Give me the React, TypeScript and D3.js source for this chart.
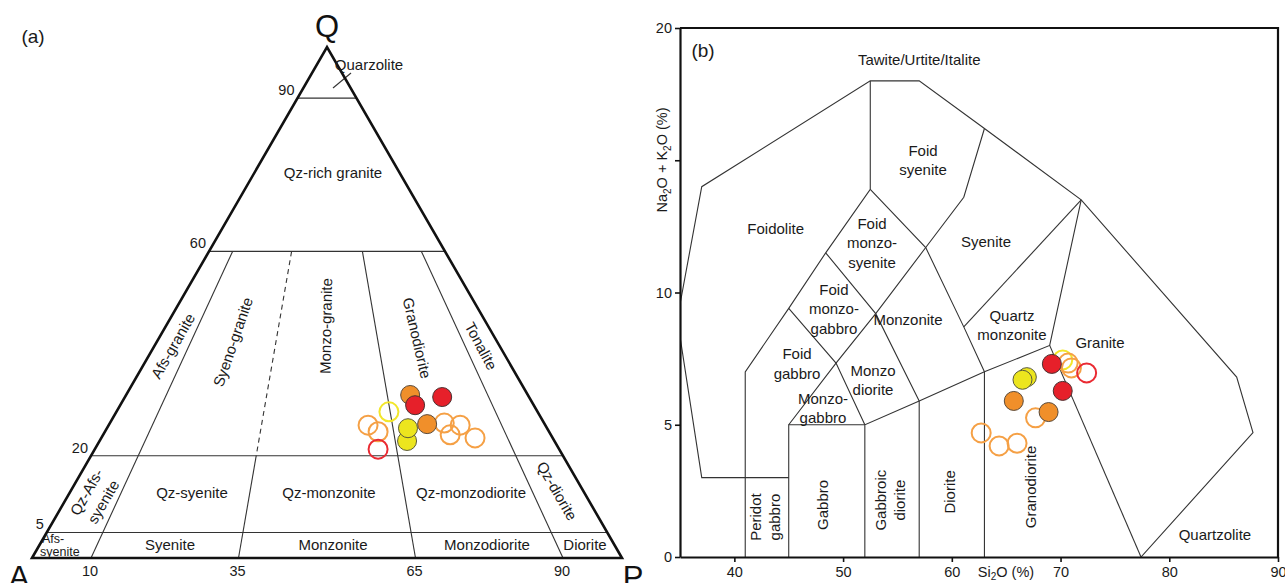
import React, { useEffect, useRef } from 'react';
import * as d3 from 'd3';

const FONT = "'Liberation Sans', Arial, Helvetica, sans-serif";

// ---------- (a) QAP ternary ----------
const qLines = [90, 60, 20, 5]; // Q %
const qTickLabels = ['90', '60', '20', '5'];
const ratioLines = [10, 35, 65, 90]; // 100*P/(A+P)
const ratioTickLabels = ['10', '35', '65', '90'];

// samples on the QAP plot: Q %, 100*P/(A+P), group
const qapQ = [28.6, 26.0, 24.7, 21.3, 26.4, 26.0, 24.1, 23.5, 31.9, 29.9, 31.5, 22.9, 25.4, 26.2];
const qapRatio = [64.7, 59.4, 61.5, 61.0, 77.0, 80.5, 77.5, 82.8, 70.7, 71.3, 78.5, 67.6, 68.4, 73.0];
const qapGroup = [
  'yellowOpen', 'orangeOpen', 'orangeOpen', 'redOpen', 'orangeOpen', 'orangeOpen', 'orangeOpen', 'orangeOpen',
  'orangeFilled', 'redFilled', 'redFilled', 'yellowFilled', 'yellowFilled', 'orangeFilled',
];

// ---------- (b) TAS ----------
const tasSiO2 = [70.2, 70.7, 71.0, 72.4, 67.7, 62.7, 64.35, 66.0, 69.2, 70.2, 66.9, 66.5, 65.7, 68.9];
const tasAlk = [7.45, 7.33, 7.15, 6.96, 5.26, 4.69, 4.2, 4.3, 7.3, 6.28, 6.8, 6.7, 5.9, 5.48];
const tasGroup = [
  'yellowOpen', 'orangeOpen', 'orangeOpen', 'redOpen', 'orangeOpen', 'orangeOpen', 'orangeOpen', 'orangeOpen',
  'redFilled', 'redFilled', 'yellowFilled', 'yellowFilled', 'orangeFilled', 'orangeFilled',
];

const tasXTicks = [40, 50, 60, 70, 80, 90];
const tasYTicks = [0, 5, 10, 15, 20];

// field boundaries [SiO2, Na2O+K2O]
const tasBoundaries: [number, number][][] = [
  [[34.75, 9], [37, 14], [52.5, 18], [57, 18], [63, 16.2], [71.9, 13.5], [86.2, 6.8], [87.7, 4.7], [77.4, 0]],
  [[34.75, 9], [37, 3], [45, 3]],
  [[41, 0], [41, 7], [45, 9.4], [48.4, 11.5], [52.5, 13.9], [52.5, 18]],
  [[45, 0], [45, 5], [52, 5]],
  [[52, 0], [52, 5], [57, 5.9], [63, 7], [69, 8], [71.9, 13.5]],
  [[57, 0], [57, 5.9]],
  [[63, 0], [63, 7]],
  [[69, 8], [77.4, 0]],
  [[45, 5], [49.35, 7.33], [53, 9.2], [57.6, 11.7], [61.1, 13.6], [63, 16.2]],
  [[45, 9.4], [49.35, 7.33], [52, 5]],
  [[48.4, 11.5], [53, 9.2], [57, 5.9]],
  [[52.5, 13.9], [57.6, 11.7], [61.1, 8.7], [63, 7]],
  [[61.1, 8.7], [71.9, 13.5]],
];

const tasFieldNames = [
  ['Tawite/Urtite/Italite'], ['Foid', 'syenite'], ['Foidolite'], ['Foid', 'monzo-', 'syenite'],
  ['Foid', 'monzo-', 'gabbro'], ['Foid', 'gabbro'], ['Monzo', 'diorite'], ['Monzo-', 'gabbro'],
  ['Monzonite'], ['Syenite'], ['Quartz', 'monzonite'], ['Granite'], ['Granodiorite'], ['Quartzolite'],
  ['Peridot', 'gabbro'], ['Gabbro'], ['Gabbroic', 'diorite'], ['Diorite'],
];
// label anchors in data units, rotation in degrees
const tasFieldAnchor: [number, number, number][] = [
  [57.0, 18.8, 0], [57.35, 15.0, 0], [43.8, 12.4, 0], [52.66, 11.87, 0],
  [49.16, 9.38, 0], [45.76, 7.3, 0], [52.75, 6.69, 0], [48.15, 5.63, 0],
  [55.97, 8.96, 0], [63.14, 11.9, 0], [65.53, 8.77, 0], [73.63, 8.09, 0], [67.3, 2.65, -90], [84.2, 0.83, 0],
  [42.86, 1.51, -90], [48.15, 1.97, -90], [54.36, 2.15, -90], [59.83, 2.46, -90],
];

const qapFieldNames = [
  ['Quarzolite'], ['Qz-rich granite'], ['Afs-granite'], ['Syeno-granite'], ['Monzo-granite'],
  ['Granodiorite'], ['Tonalite'], ['Qz-Afs-', 'syenite'], ['Qz-syenite'], ['Qz-monzonite'],
  ['Qz-monzodiorite'], ['Qz-diorite'], ['Syenite'], ['Monzonite'], ['Monzodiorite'], ['Diorite'],
];
const qapFieldAnchor: [number, number, number][] = [
  [369, 65, 0], [333, 173, 0], [173, 346, -60], [233, 342, -71], [326, 326, -89],
  [417, 338, 77], [481, 346, 62], [95, 497, -60], [192, 493, 0], [329, 493, 0],
  [471, 493, 0], [557, 491, 60], [170, 545, 0], [333, 545, 0], [487, 545, 0], [585, 545, 0],
];

const GROUP_STYLE: Record<string, { fill: string; stroke: string; sw: number }> = {
  redFilled: { fill: '#e6202a', stroke: '#4a3030', sw: 1 },
  orangeFilled: { fill: '#f08f2a', stroke: '#5a4a3a', sw: 1 },
  yellowFilled: { fill: '#ece51e', stroke: '#5a5a3a', sw: 1 },
  redOpen: { fill: 'none', stroke: '#ea2a32', sw: 2 },
  orangeOpen: { fill: 'none', stroke: '#f5a045', sw: 2 },
  yellowOpen: { fill: 'none', stroke: '#f2e62a', sw: 2 },
};

const TXT = '#1a1a1a';
const LABEL_SIZE = 15;

const triX = d3.scaleLinear().domain([0, 1]).range([32, 622]);
const triY = d3.scaleLinear().domain([0, 100]).range([558, 47]);
const tern = (q: number, ratio: number): [number, number] => {
  const qf = q / 100;
  const p = (ratio / 100) * (1 - qf);
  return [triX(p + qf / 2), triY(q)];
};

const tasX = d3.scaleLinear().domain([35, 90]).range([680, 1278]);
const tasY = d3.scaleLinear().domain([0, 20]).range([557, 28]);

const lineGen = d3.line<[number, number]>().x((d) => tasX(d[0])).y((d) => tasY(d[1]));

const Label = ({ x, y, rot, lines, size = LABEL_SIZE }: { x: number; y: number; rot: number; lines: string[]; size?: number }) => {
  const lh = size * 1.3;
  const start = -((lines.length - 1) * lh) / 2;
  return (
    <text transform={`translate(${x},${y}) rotate(${rot})`} textAnchor="middle" fontSize={size} fill={TXT}>
      {lines.map((l, i) => (
        <tspan key={i} x={0} y={start + i * lh} dy="0.35em">{l}</tspan>
      ))}
    </text>
  );
};

export default function App() {
  const xAxisRef = useRef<SVGGElement>(null);
  const yAxisRef = useRef<SVGGElement>(null);

  useEffect(() => {
    const xAxis = d3.axisBottom(tasX).tickValues(tasXTicks).tickSize(5).tickSizeOuter(0).tickFormat(d3.format('d'));
    const yAxis = d3.axisLeft(tasY).tickValues(tasYTicks).tickSize(5).tickSizeOuter(0)
      .tickFormat((d) => (d === 15 ? '' : String(d)));
    const gx = d3.select(xAxisRef.current!).call(xAxis);
    const gy = d3.select(yAxisRef.current!).call(yAxis);
    [gx, gy].forEach((g) => {
      g.select('.domain').attr('stroke', '#111').attr('stroke-width', 2.2);
      g.selectAll('.tick line').attr('stroke', '#111').attr('stroke-width', 1.6);
      g.selectAll('.tick text').attr('font-size', 14.5).attr('fill', TXT).attr('font-family', FONT);
    });
    gx.selectAll('.tick text').attr('dy', '0.85em');
  }, []);

  const innerStroke = '#333';
  const [qx, qy] = tern(100, 0);
  const [ax, ay] = tern(0, 0);
  const [px, py] = tern(0, 100);

  return (
    <svg width={1285} height={583} style={{ position: 'absolute', left: 0, top: 0, background: '#fff' }} fontFamily={FONT}>
      <rect width={1285} height={583} fill="#fff" />
      {/* ----- panel (a) ----- */}
      <text x={33} y={43} fontSize={19} textAnchor="middle" fill={TXT}>(a)</text>
      <g fill="none" stroke={innerStroke} strokeWidth={1.1}>
        {qLines.map((q) => {
          const a = tern(q, 0);
          const b = tern(q, 100);
          return <line key={q} x1={a[0]} y1={a[1]} x2={b[0]} y2={b[1]} />;
        })}
        {ratioLines.map((r) => {
          const top = tern(60, r);
          const mid = tern(20, r);
          const bot = tern(0, r);
          if (r === 35) {
            return (
              <g key={r}>
                <line x1={top[0]} y1={top[1]} x2={mid[0]} y2={mid[1]} strokeDasharray="5,4" />
                <line x1={mid[0]} y1={mid[1]} x2={bot[0]} y2={bot[1]} />
              </g>
            );
          }
          return <line key={r} x1={top[0]} y1={top[1]} x2={bot[0]} y2={bot[1]} />;
        })}
        <line x1={351} y1={73} x2={333} y2={88} />
      </g>
      <path d={`M${ax},${ay}L${qx},${qy}L${px},${py}Z`} fill="none" stroke="#111" strokeWidth={2.6} strokeLinejoin="miter" />
      {qLines.map((q, i) => {
        const [x, y] = tern(q, 0);
        return <text key={q} x={x - 3} y={y - 3} fontSize={14.5} textAnchor="end" fill={TXT}>{qTickLabels[i]}</text>;
      })}
      {ratioLines.map((r, i) => {
        const [x, y] = tern(0, r);
        return <text key={r} x={x - 1} y={y + 18} fontSize={14.5} textAnchor="middle" fill={TXT}>{ratioTickLabels[i]}</text>;
      })}
      <text x={qx} y={qy - 10} fontSize={31} textAnchor="middle" fill="#111">Q</text>
      <text x={ax - 13} y={ay + 30} fontSize={31} textAnchor="middle" fill="#111">A</text>
      <text x={px + 11} y={py + 30} fontSize={31} textAnchor="middle" fill="#111">P</text>
      {qapFieldNames.map((lines, i) => (
        <Label key={i} x={qapFieldAnchor[i][0]} y={qapFieldAnchor[i][1]} rot={qapFieldAnchor[i][2]} lines={lines} />
      ))}
      <text fontSize={12.5} fill={TXT}>
        <tspan x={42} y={543}>Afs-</tspan>
        <tspan x={40} y={556}>syenite</tspan>
      </text>
      {qapQ.map((q, i) => {
        const [x, y] = tern(q, qapRatio[i]);
        const s = GROUP_STYLE[qapGroup[i]];
        return <circle key={i} cx={x} cy={y} r={9.5} fill={s.fill} stroke={s.stroke} strokeWidth={s.sw} />;
      })}

      {/* ----- panel (b) ----- */}
      <defs>
        <clipPath id="tasClip">
          <rect x={tasX(35)} y={tasY(20)} width={tasX(90) - tasX(35)} height={tasY(0) - tasY(20)} />
        </clipPath>
      </defs>
      <g clipPath="url(#tasClip)" fill="none" stroke={innerStroke} strokeWidth={1.1}>
        {tasBoundaries.map((b, i) => <path key={i} d={lineGen(b) || ''} />)}
      </g>
      <path
        d={`M${tasX(35)},${tasY(20)}H${tasX(90)}V${tasY(0)}`}
        fill="none" stroke="#111" strokeWidth={2.2}
      />
      <g ref={xAxisRef} transform={`translate(0,${tasY(0)})`} />
      <g ref={yAxisRef} transform={`translate(${tasX(35)},0)`} />
      <text x={703} y={57} fontSize={19} textAnchor="middle" fill={TXT}>(b)</text>
      <text transform={`translate(667,${160}) rotate(-90)`} textAnchor="middle" fontSize={14.5} fill={TXT}>
        Na<tspan fontSize={10} dy={4}>2</tspan><tspan dy={-4}>O + K</tspan><tspan fontSize={10} dy={4}>2</tspan><tspan dy={-4}>O (%)</tspan>
      </text>
      <text x={1006} y={577} textAnchor="middle" fontSize={14.5} fill={TXT}>
        Si<tspan fontSize={10} dy={3}>2</tspan><tspan dy={-3}>O (%)</tspan>
      </text>
      {tasFieldNames.map((lines, i) => (
        <Label key={i} x={tasX(tasFieldAnchor[i][0])} y={tasY(tasFieldAnchor[i][1])} rot={tasFieldAnchor[i][2]} lines={lines} />
      ))}
      {tasSiO2.map((s, i) => {
        const st = GROUP_STYLE[tasGroup[i]];
        return <circle key={i} cx={tasX(s)} cy={tasY(tasAlk[i])} r={9.5} fill={st.fill} stroke={st.stroke} strokeWidth={st.sw} />;
      })}
    </svg>
  );
}
